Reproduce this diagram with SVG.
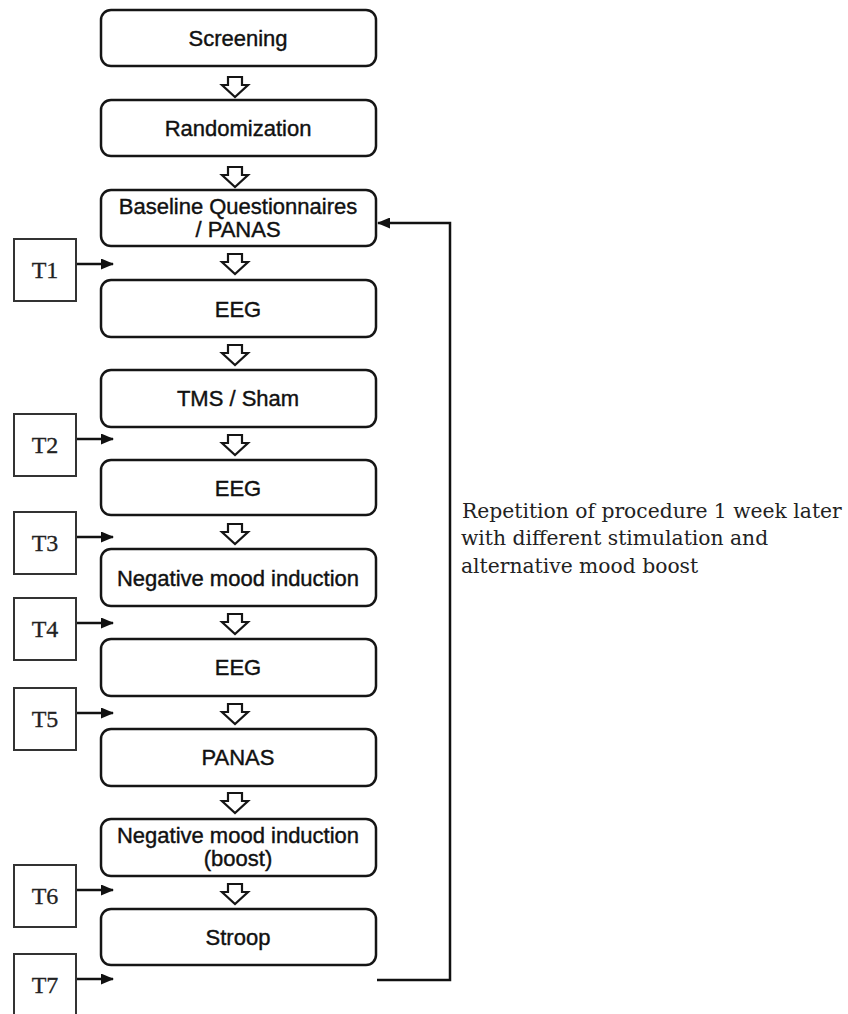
<svg xmlns="http://www.w3.org/2000/svg" width="848" height="1014" viewBox="0 0 848 1014">
<defs>
<style>
.box{fill:#fff;stroke:#151515;stroke-width:2.5}
.tbox{fill:#fff;stroke:#333;stroke-width:2}
.lbl{font-family:"Liberation Sans",Arial,sans-serif;font-size:22px;fill:#111;text-anchor:middle;stroke:#111;stroke-width:0.4}
.tl{font-family:"Liberation Serif","Times New Roman",serif;font-size:24px;fill:#222;text-anchor:middle;stroke:#222;stroke-width:0.3}
.note{font-family:"DejaVu Serif","Liberation Serif",serif;font-size:20.3px;fill:#222}
.hollow{fill:#fff;stroke:#151515;stroke-width:2.2;stroke-linejoin:miter}
.line{fill:none;stroke:#111;stroke-width:2.5}
</style>
<marker id="ah" markerWidth="13" markerHeight="11" refX="12" refY="5.5" orient="auto" markerUnits="userSpaceOnUse">
<path d="M0,0 L13,5.5 L0,11 Z" fill="#111"/>
</marker>
<path id="ha" d="M-7,0 H7 V8 H13 L0,20 L-13,8 H-7 Z"/>
</defs>
<rect width="848" height="1014" fill="#fff"/>

<g id="n1"><rect class="box" x="101" y="10" width="275" height="56" rx="10"/><text class="lbl" x="238" y="46">Screening</text></g>
<g id="n2"><rect class="box" x="101" y="100" width="275" height="56" rx="10"/><text class="lbl" x="238" y="136">Randomization</text></g>
<g id="n3"><rect class="box" x="101" y="190" width="275" height="56" rx="10"/><text class="lbl" x="238" y="214">Baseline Questionnaires</text><text class="lbl" x="238" y="237">/ PANAS</text></g>
<g id="n4"><rect class="box" x="101" y="280" width="275" height="57" rx="10"/><text class="lbl" x="238" y="317">EEG</text></g>
<g id="n5"><rect class="box" x="101" y="370" width="275" height="57" rx="10"/><text class="lbl" x="238" y="406">TMS / Sham</text></g>
<g id="n6"><rect class="box" x="101" y="460" width="275" height="55" rx="10"/><text class="lbl" x="238" y="496">EEG</text></g>
<g id="n7"><rect class="box" x="101" y="549" width="275" height="57" rx="10"/><text class="lbl" x="238" y="586">Negative mood induction</text></g>
<g id="n8"><rect class="box" x="101" y="639" width="275" height="57" rx="10"/><text class="lbl" x="238" y="675">EEG</text></g>
<g id="n9"><rect class="box" x="101" y="729" width="275" height="57" rx="10"/><text class="lbl" x="238" y="765">PANAS</text></g>
<g id="n10"><rect class="box" x="101" y="819" width="275" height="57" rx="10"/><text class="lbl" x="238" y="843">Negative mood induction</text><text class="lbl" x="238" y="866">(boost)</text></g>
<g id="n11"><rect class="box" x="101" y="909" width="275" height="56" rx="10"/><text class="lbl" x="238" y="945">Stroop</text></g>

<g id="t1"><rect class="tbox" x="14" y="239" width="62" height="62"/><text class="tl" x="45" y="278">T1</text></g>
<g id="t2"><rect class="tbox" x="14" y="414" width="62" height="62"/><text class="tl" x="45" y="453">T2</text></g>
<g id="t3"><rect class="tbox" x="14" y="512" width="62" height="62"/><text class="tl" x="45" y="551">T3</text></g>
<g id="t4"><rect class="tbox" x="14" y="598" width="62" height="62"/><text class="tl" x="45" y="637">T4</text></g>
<g id="t5"><rect class="tbox" x="14" y="688" width="62" height="62"/><text class="tl" x="45" y="727">T5</text></g>
<g id="t6"><rect class="tbox" x="14" y="865" width="62" height="62"/><text class="tl" x="45" y="904">T6</text></g>
<g id="t7"><rect class="tbox" x="14" y="954" width="62" height="62"/><text class="tl" x="45" y="993">T7</text></g>

<g id="connectors">
<use href="#ha" class="hollow" x="235" y="77"/>
<use href="#ha" class="hollow" x="235" y="167"/>
<use href="#ha" class="hollow" x="235" y="254"/>
<use href="#ha" class="hollow" x="235" y="345"/>
<use href="#ha" class="hollow" x="235" y="435"/>
<use href="#ha" class="hollow" x="235" y="524"/>
<use href="#ha" class="hollow" x="235" y="614"/>
<use href="#ha" class="hollow" x="235" y="704"/>
<use href="#ha" class="hollow" x="235" y="793"/>
<use href="#ha" class="hollow" x="235" y="884"/>
<path class="line" d="M77,264 H113" marker-end="url(#ah)"/>
<path class="line" d="M77,439 H113" marker-end="url(#ah)"/>
<path class="line" d="M77,537 H113" marker-end="url(#ah)"/>
<path class="line" d="M77,623 H113" marker-end="url(#ah)"/>
<path class="line" d="M77,713 H113" marker-end="url(#ah)"/>
<path class="line" d="M77,890 H113" marker-end="url(#ah)"/>
<path class="line" d="M77,979 H113" marker-end="url(#ah)"/>
<path class="line" d="M377,980 H450 V223 H378" marker-end="url(#ah)"/>
</g>

<g id="note">
<text class="note" x="462" y="518">Repetition of procedure 1 week later</text>
<text class="note" x="461" y="545">with different stimulation and</text>
<text class="note" x="461" y="573">alternative mood boost</text>
</g>
</svg>
